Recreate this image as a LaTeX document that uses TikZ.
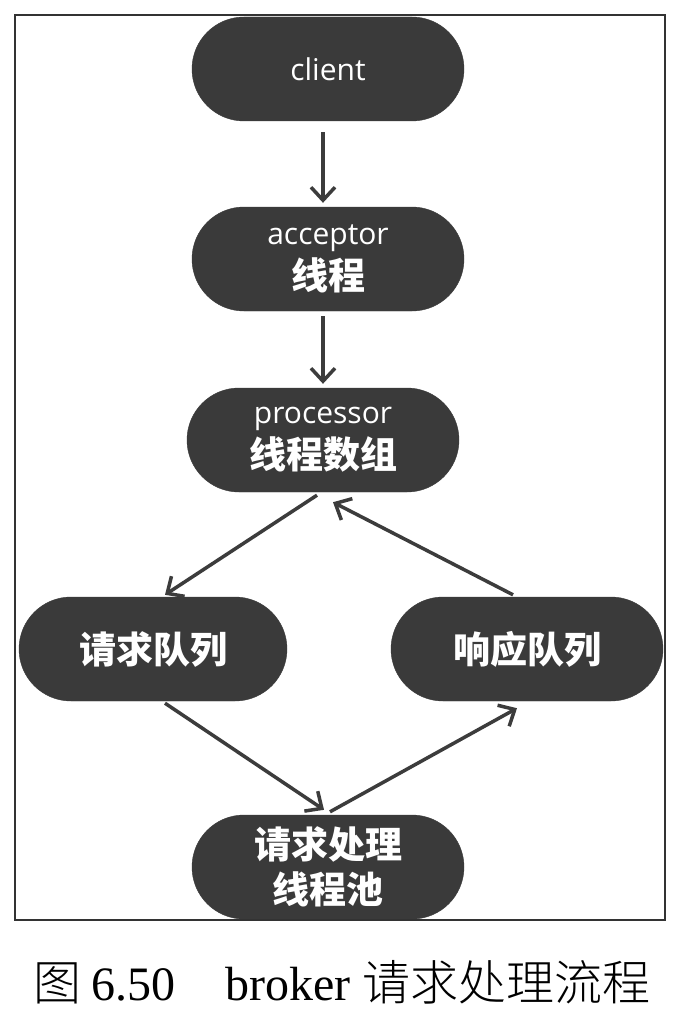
\documentclass[tikz,border=0pt]{standalone}
\usepackage{fontspec}
\setmainfont{Liberation Serif}
\newfontfamily\latin{Open Sans}
\newfontfamily\cjk{Noto Sans CJK SC}
\newfontfamily\cjkcap{Noto Sans CJK SC Light}
\usetikzlibrary{shapes.misc,arrows.meta}
\definecolor{nodefill}{HTML}{3A3A3A}
\definecolor{linec}{HTML}{3C3C3C}
\tikzset{
  pill/.style={rounded rectangle, fill=nodefill, draw=nodefill, text=white,
    minimum width=272pt, minimum height=104pt, inner sep=0pt, align=center},
  flowarrow/.style={draw=linec, line width=3.5pt,
    -{Straight Barb[length=13pt,width=24pt,line width=3.5pt]}}
}
\newcommand{\en}[1]{{\latin\fontsize{30}{30}\selectfont #1}}
\newcommand{\zh}[1]{{\cjk\bfseries\fontsize{37}{40}\selectfont #1}}
\begin{document}
\begin{tikzpicture}[x=1pt,y=-1pt]
\useasboundingbox (0,0) rectangle (680,1014);
\fill[white] (0,0) rectangle (680,1014);
\node[pill] (client) at (328,69) {\en{client}};
\node[pill] (acc) at (328,259) {\en{acceptor}\\[5pt]\zh{线程}};
\node[pill] (proc) at (323,440) {\en{processor}\\[5pt]\zh{线程数组}};
\node[pill, minimum width=268pt] (req) at (153,649) {\zh{请求队列}};
\node[pill] (resp) at (527,649) {\zh{响应队列}};
\node[pill] (pool) at (328,867) {\zh{请求处理}\\[9pt]\zh{线程池}};
\draw[line width=2pt, draw=black!80] (15,15) rectangle (665,920);
\draw[flowarrow] ([xshift=-5pt,yshift=-11pt]client.south) -- ([xshift=-5pt,yshift=4pt]acc.north);
\draw[flowarrow] ([xshift=-5pt,yshift=-5pt]acc.south) -- ([xshift=0pt,yshift=4pt]proc.north);
\draw[flowarrow] ([xshift=-6pt,yshift=-3pt]proc.south) -- ([xshift=12pt,yshift=2pt]req.north);
\draw[flowarrow] ([xshift=-14pt,yshift=2pt]resp.north) -- ([xshift=10pt,yshift=-10pt]proc.south);
\draw[flowarrow] ([xshift=12pt,yshift=-2pt]req.south) -- ([xshift=-4pt,yshift=5pt]pool.north);
\draw[flowarrow] ([xshift=2pt,yshift=3pt]pool.north) -- ([xshift=-10pt,yshift=-7pt]resp.south);
\node[font=\fontsize{48}{50}\selectfont, anchor=base] (cap) at (342,1000) {{\cjkcap 图}\hspace{10pt}6.50\hspace{50pt}broker {\cjkcap 请求处理流程}};
\end{tikzpicture}
\end{document}
